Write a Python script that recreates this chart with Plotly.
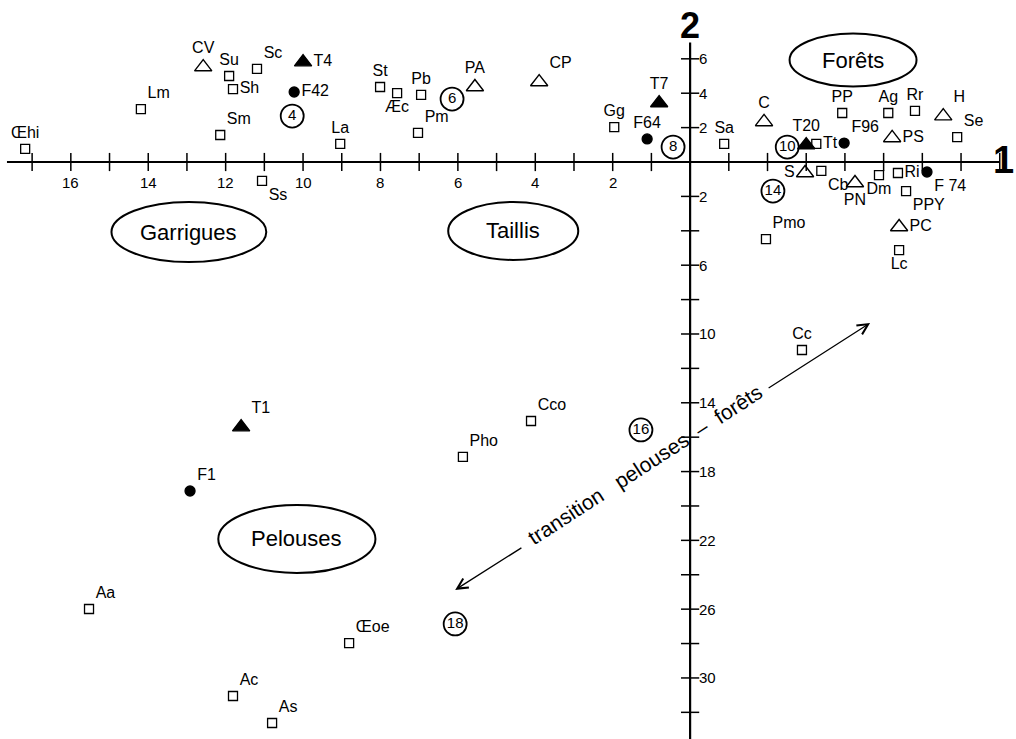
import plotly.graph_objects as go

# ---------------- data (axis 1 = x, axis 2 = y) ----------------
sq_labels = ["Œhi", "Lm", "Su", "Sh", "Sc", "Sm", "Ss", "La", "St", "Æc", "Pb", "Pm",
             "Gg", "Sa", "Tt", "PP", "Ag", "Rr", "Se", "Cb", "Dm", "Ri", "PPY", "Pmo",
             "Lc", "Cc", "Cco", "Pho", "Aa", "Œoe", "Ac", "As"]
sq_x = [-17.18, -14.19, -11.91, -11.81, -11.19, -12.14, -11.06, -9.04, -8.01, -7.57, -6.95, -7.03,
        -1.96, 0.88, 3.26, 3.93, 5.12, 5.81, 6.90, 3.39, 4.88, 5.37, 5.58, 1.96,
        5.40, 2.89, -4.11, -5.87, -15.53, -8.81, -11.81, -10.80]
sq_y = [0.76, 3.08, 5.00, 4.24, 5.41, 1.57, -1.10, 1.05, 4.36, 4.01, 3.90, 1.69,
        2.03, 1.05, 1.05, 2.85, 2.85, 2.97, 1.45, -0.52, -0.76, -0.64, -1.69, -4.48,
        -5.12, -10.93, -15.06, -17.15, -25.99, -27.97, -31.05, -32.62]

otri_labels = ["CV", "PA", "CP", "C", "H", "PS", "S", "PN", "PC"]
otri_x = [-12.58, -5.56, -3.90, 1.91, 6.54, 5.22, 2.97, 4.26, 5.40]
otri_y = [5.52, 4.36, 4.65, 2.33, 2.67, 1.40, -0.64, -1.22, -3.78]

ftri_labels = ["T4", "T7", "T20", "T1"]
ftri_x = [-10.00, -0.80, 3.00, -11.60]
ftri_y = [5.81, 3.43, 0.99, -15.41]

fcir_labels = ["F42", "F64", "F96", "F 74", "F1"]
fcir_x = [-10.23, -1.11, 3.98, 6.12, -12.92]
fcir_y = [4.07, 1.34, 1.10, -0.58, -19.13]

num_labels = ["4", "6", "8", "10", "14", "16", "18"]
num_x = [-10.28, -6.15, -0.44, 2.51, 2.14, -1.27, -6.07]
num_y = [2.67, 3.66, 0.87, 0.87, -1.69, -15.58, -26.86]

zone_names = ["Garrigues", "Taillis", "Forêts", "Pelouses"]
zone_x = [-12.95, -4.57, 4.21, -10.16]
zone_y = [-4.07, -4.01, 5.93, -21.92]

x_ticks = list(range(-17, 9))
x_tick_vals = [-2, -4, -6, -8, -10, -12, -14, -16]
x_tick_text = ["2", "4", "6", "8", "10", "12", "14", "16"]
y_ticks = [6, 4, 2] + [-v for v in range(2, 34, 2)]
y_tick_vals = [6, 4, 2, -2, -6, -10, -14, -18, -22, -26, -30]
y_tick_text = ["6", "4", "2", "2", "6", "10", "14", "18", "22", "26", "30"]

arrow_text = "transition\u00a0\u00a0\u00a0pelouses\u00a0\u00a0–\u00a0\u00a0forêts"

# ---------------- styles ----------------
LAB = "Liberation Sans, Arial, Helvetica, sans-serif"
SANS = "Liberation Sans, Arial, Helvetica, sans-serif"
BLACK = "black"

pos = {
    "Œhi": "top center", "Lm": "top right", "Su": "top center", "Sh": "middle right",
    "Sc": "top right", "Sm": "top right", "Ss": "bottom right", "La": "top center",
    "St": "top center", "Æc": "bottom center", "Pb": "top center", "Pm": "top right",
    "Gg": "top center", "Sa": "top center", "Tt": "middle right", "PP": "top center",
    "Ag": "top center", "Rr": "top center", "Se": "top right", "Cb": "bottom right",
    "Dm": "bottom center", "Ri": "middle right", "PPY": "bottom right", "Pmo": "top right",
    "Lc": "bottom center", "Cc": "top center", "Cco": "top right", "Pho": "top right",
    "Aa": "top right", "Œoe": "top right", "Ac": "top right", "As": "top right",
    "CV": "top center", "PA": "top center", "CP": "top right", "C": "top center",
    "H": "top right", "PS": "middle right", "S": "middle left", "PN": "bottom center",
    "PC": "middle right", "T4": "middle right", "T7": "top center", "T20": "top center",
    "T1": "top right", "F42": "middle right", "F64": "top center", "F96": "top right",
    "F 74": "bottom right", "F1": "top right",
}

fig = go.Figure()


def add_pts(xs, ys, labels, symbol, size, lw=1.3):
    fig.add_trace(go.Scatter(
        x=xs, y=ys, mode="markers+text", text=labels,
        textposition=[pos[l] for l in labels],
        textfont=dict(family=LAB, size=16, color=BLACK),
        marker=dict(symbol=symbol, size=size, color=BLACK,
                    line=dict(color=BLACK, width=lw)),
        cliponaxis=False, hoverinfo="skip"))


# axes lines
fig.add_shape(type="line", x0=-17.65, x1=8, y0=0, y1=0, line=dict(color=BLACK, width=2))
fig.add_shape(type="line", x0=0, x1=0, y0=6.95, y1=-33.6, line=dict(color=BLACK, width=2.2))

# ticks
fig.add_trace(go.Scatter(x=x_ticks, y=[0] * len(x_ticks), mode="markers",
                         marker=dict(symbol="line-ns", size=13, line=dict(color=BLACK, width=1.5)),
                         hoverinfo="skip"))
fig.add_trace(go.Scatter(x=[0] * len(y_ticks), y=y_ticks, mode="markers",
                         marker=dict(symbol="line-ew", size=13, line=dict(color=BLACK, width=1.5)),
                         hoverinfo="skip"))

add_pts(sq_x, sq_y, sq_labels, "square-open", 9)
add_pts(otri_x, otri_y, otri_labels, "triangle-up-open", 15, 1.4)
add_pts(ftri_x, ftri_y, ftri_labels, "triangle-up", 15)
add_pts(fcir_x, fcir_y, fcir_labels, "circle", 10)

fig.add_trace(go.Scatter(
    x=num_x, y=num_y, mode="markers+text", text=num_labels, textposition="middle center",
    textfont=dict(family=LAB, size=15, color=BLACK),
    marker=dict(symbol="circle-open", size=23, color=BLACK, line=dict(color=BLACK, width=1.8)),
    hoverinfo="skip"))

annotations = []
for v, t in zip(x_tick_vals, x_tick_text):
    annotations.append(dict(x=v, y=0, text=t, showarrow=False, yshift=-20,
                            font=dict(family=LAB, size=15, color=BLACK)))
for v, t in zip(y_tick_vals, y_tick_text):
    annotations.append(dict(x=0, y=v, text=t, showarrow=False, xanchor="left", xshift=7,
                            font=dict(family=LAB, size=15, color=BLACK)))

# axis titles
annotations.append(dict(x=0, y=7.95, text="<b>2</b>", showarrow=False,
                        font=dict(family=SANS, size=36, color=BLACK)))
annotations.append(dict(x=8.1, y=0, text="<b>1</b>", showarrow=False, yshift=2,
                        font=dict(family=SANS, size=38, color=BLACK)))

# zones
zone_size = {"Garrigues": (4.0, 3.5), "Taillis": (3.36, 3.37), "Forêts": (3.28, 3.08),
             "Pelouses": (4.06, 3.95)}
for name, cx, cy in zip(zone_names, zone_x, zone_y):
    w, h = zone_size[name]
    fig.add_shape(type="circle", x0=cx - w / 2, x1=cx + w / 2, y0=cy - h / 2, y1=cy + h / 2,
                  line=dict(color=BLACK, width=2))
    annotations.append(dict(x=cx, y=cy, text=name, showarrow=False,
                            font=dict(family=SANS, size=22, color=BLACK)))

# transition arrow
annotations.append(dict(x=4.65, y=-9.36, ax=1.99, ay=-13.2, axref="x", ayref="y",
                        xref="x", yref="y", text="", showarrow=True, arrowhead=5,
                        arrowsize=1.6, arrowwidth=1.3, arrowcolor=BLACK))
annotations.append(dict(x=-6.07, y=-24.88, ax=-4.32, ay=-22.38, axref="x", ayref="y",
                        xref="x", yref="y", text="", showarrow=True, arrowhead=5,
                        arrowsize=1.6, arrowwidth=1.3, arrowcolor=BLACK))
annotations.append(dict(x=-1.16, y=-17.6, text=arrow_text, showarrow=False, textangle=-33,
                        font=dict(family=LAB, size=21, color=BLACK)))

fig.update_layout(
    width=1016, height=739, margin=dict(l=0, r=0, t=0, b=0),
    paper_bgcolor="white", plot_bgcolor="white", showlegend=False,
    xaxis=dict(range=[-17.83, 8.42], visible=False, fixedrange=True),
    yaxis=dict(range=[-33.55, 9.42], visible=False, fixedrange=True),
    annotations=annotations,
)

fig.write_html("out.html", config={"displayModeBar": False},
               post_script="document.body.style.margin='0px';document.body.style.overflow='hidden';")
